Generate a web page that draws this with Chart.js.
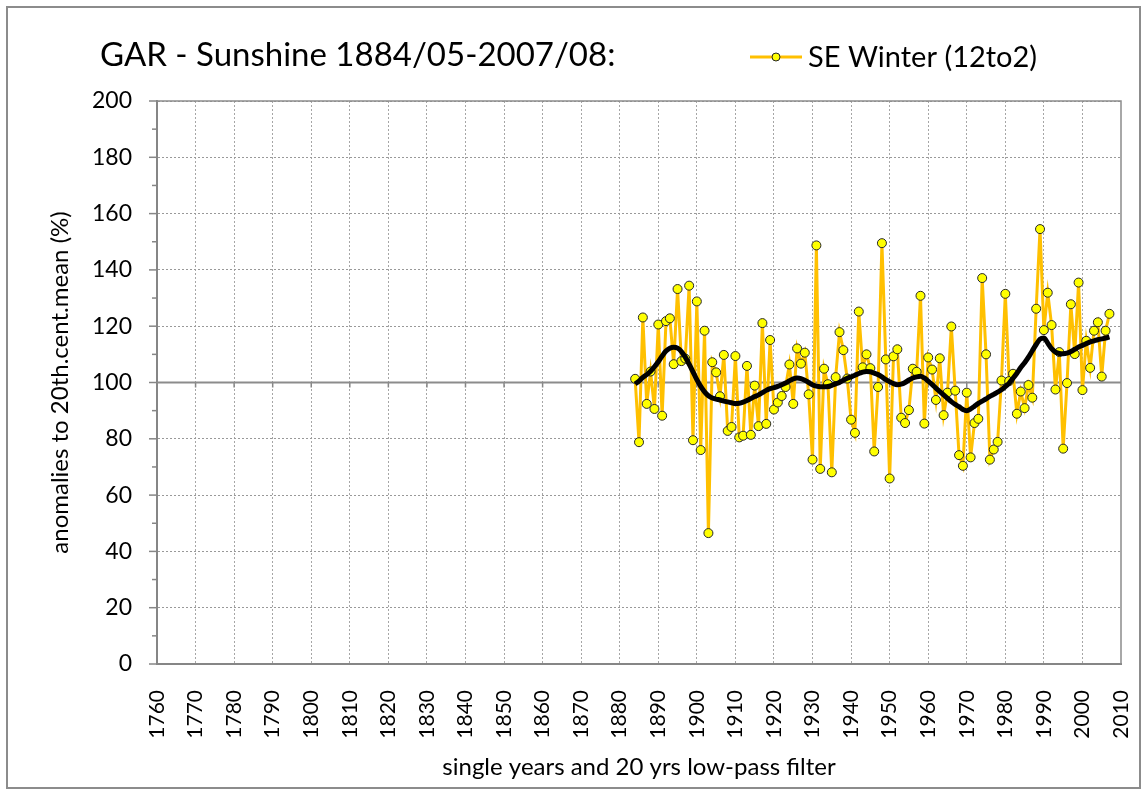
<!DOCTYPE html>
<html>
<head>
<meta charset="utf-8">
<title>GAR - Sunshine</title>
<script src="https://cdn.jsdelivr.net/npm/chart.js@4"></script>
<style>
  html, body { margin: 0; padding: 0; background: #fff; }
  #wrap { position: relative; width: 1148px; height: 793px; }
  #frame { position: absolute; left: 6px; top: 6px; width: 1131px; height: 779px; border: 2px solid #8c8c8c; pointer-events: none; }
</style>
</head>
<body>
<div id="wrap">
  <canvas id="sunChart" width="1148" height="793"></canvas>
  <div id="frame"></div>
</div>
<script>
const fontFamily = 'Lato, "Open Sans", sans-serif';
const chartTitle = 'GAR - Sunshine 1884/05-2007/08:';
const seriesLabel = 'SE Winter (12to2)';
const xTitle = 'single years and 20 yrs low-pass filter';
const yTitle = 'anomalies to 20th.cent.mean (%)';

const firstYear = 1884;
const xMin = 1760, xMax = 2010, xStep = 10;
const yMin = 0, yMax = 200, yStep = 20;
const refLevel = 100;

// winter sunshine anomalies, 1884 .. 2007
const sunshine = [
    101.3, 78.8, 123.1, 92.4, 103.9, 90.6, 120.6, 88.2, 121.8, 122.8,
    106.5, 133.2, 107.6, 108.5, 134.4, 79.5, 128.8, 76.0, 118.4, 46.5,
    107.2, 103.6, 95.1, 109.8, 82.8, 84.2, 109.4, 80.5, 81.1, 105.9,
    81.4, 98.9, 84.5, 121.1, 85.3, 115.1, 90.4, 92.9, 95.2, 98.4,
    106.4, 92.4, 112.1, 106.7, 110.6, 95.8, 72.6, 148.7, 69.3, 104.9,
    99.4, 68.1, 101.9, 117.9, 111.5, 101.4, 86.8, 82.1, 125.2, 105.4,
    110.0, 105.1, 75.5, 98.4, 149.5, 108.2, 65.9, 109.3, 111.8, 87.5,
    85.6, 90.2, 104.9, 103.8, 130.8, 85.4, 108.9, 104.6, 93.8, 108.6,
    88.4, 96.4, 119.9, 97.1, 74.2, 70.4, 96.4, 73.4, 85.6, 87.1,
    137.1, 110.0, 72.6, 76.2, 78.9, 100.7, 131.5, 100.5, 103.1, 88.9,
    96.8, 90.9, 99.1, 94.6, 126.2, 154.5, 118.6, 131.9, 120.4, 97.5,
    110.8, 76.5, 99.8, 127.8, 110.1, 135.5, 97.3, 114.8, 105.2, 118.4,
    121.4, 102.1, 118.4, 124.4
];

// 20 yrs low-pass filter
const lowPass = [
    99.5, 100.5, 101.8, 102.8, 104.0, 105.6, 107.4, 109.4, 111.2, 112.2,
    112.5, 112.2, 111.0, 109.0, 106.5, 103.8, 101.0, 98.6, 96.7, 95.3,
    94.5, 94.1, 93.8, 93.4, 93.1, 92.8, 92.5, 92.6, 93.0, 93.6,
    94.3, 95.0, 95.6, 96.4, 97.2, 97.8, 98.2, 98.6, 99.2, 99.8,
    100.6, 101.3, 101.6, 101.4, 100.8, 100.0, 99.2, 98.7, 98.5, 98.5,
    98.6, 99.0, 99.5, 100.0, 100.8, 101.5, 102.0, 102.6, 103.2, 103.7,
    103.9, 103.8, 103.3, 102.8, 102.0, 101.0, 100.3, 99.6, 99.2, 99.4,
    100.0, 100.9, 101.6, 102.0, 102.2, 101.6, 100.5, 99.3, 98.0, 96.8,
    95.6, 94.4, 93.2, 92.2, 91.4, 90.4, 90.0, 90.6, 91.6, 92.6,
    93.4, 94.2, 95.1, 95.8, 96.6, 97.4, 98.5, 99.8, 101.5, 103.3,
    105.3, 107.0, 109.0, 111.3, 113.5, 115.4, 115.8, 114.0, 112.0, 110.8,
    110.3, 110.2, 110.4, 111.0, 111.8, 112.6, 113.2, 113.8, 114.4, 114.8,
    115.2, 115.5, 115.8, 116.2
];

const years = sunshine.map((_, i) => firstYear + i);

function toPoints(values) {
    return values.map((v, i) => ({ x: years[i], y: v }));
}

// small picture used as legend marker: line with a point
function legendMarker() {
    const c = document.createElement('canvas');
    c.width = 52;
    c.height = 14;
    const g = c.getContext('2d');
    g.strokeStyle = '#FFC000';
    g.lineWidth = 3;
    g.beginPath();
    g.moveTo(0, 7);
    g.lineTo(52, 7);
    g.stroke();
    g.fillStyle = '#FFFF00';
    g.strokeStyle = '#262626';
    g.lineWidth = 1;
    g.beginPath();
    g.arc(26, 7, 4, 0, Math.PI * 2);
    g.fill();
    g.stroke();
    return c;
}

// title + legend on one row, axis tick marks, plot frame
const decorPlugin = {
    id: 'decor',
    beforeDatasetsDraw(chart) {
        const { ctx, chartArea, scales } = chart;
        const xs = scales.x, ys = scales.y;
        ctx.save();
        ctx.strokeStyle = '#8c8c8c';
        ctx.lineWidth = 1.5;
        ctx.beginPath();
        ctx.moveTo(chartArea.left, chartArea.top);
        ctx.lineTo(chartArea.right, chartArea.top);
        ctx.lineTo(chartArea.right, chartArea.bottom);
        ctx.stroke();

        // minor/major ticks on y axis
        ctx.strokeStyle = '#868686';
        for (let v = yMin; v <= yMax; v += yStep / 2) {
            const py = ys.getPixelForValue(v);
            const len = v % yStep === 0 ? 8 : 5;
            ctx.beginPath();
            ctx.moveTo(chartArea.left - len, py);
            ctx.lineTo(chartArea.left, py);
            ctx.stroke();
        }
        // ticks on the 100 % line
        const py100 = ys.getPixelForValue(refLevel);
        for (let yr = xMin + xStep; yr < xMax; yr += xStep) {
            const px = xs.getPixelForValue(yr);
            ctx.beginPath();
            ctx.moveTo(px, py100);
            ctx.lineTo(px, py100 + 5);
            ctx.stroke();
        }
        ctx.restore();
    },
    afterDraw(chart) {
        const ctx = chart.ctx;
        ctx.save();
        ctx.fillStyle = '#000';
        ctx.textBaseline = 'alphabetic';
        ctx.font = '33px ' + fontFamily;
        ctx.fillText(chartTitle, 100, 66);

        const marker = legendMarker();
        ctx.drawImage(marker, 750, 57 - marker.height / 2);
        ctx.font = '29px ' + fontFamily;
        ctx.fillText(chart.data.datasets[0].label, 808, 67);
        ctx.restore();
    }
};

const ctx = document.getElementById('sunChart').getContext('2d');

const chart = new Chart(ctx, {
    type: 'line',
    data: {
        datasets: [
            {
                label: seriesLabel,
                data: toPoints(sunshine),
                borderColor: '#FFC000',
                backgroundColor: '#FFFF00',
                borderWidth: 3,
                pointBackgroundColor: '#FFFF00',
                pointBorderColor: '#262626',
                pointBorderWidth: 1,
                pointRadius: 4.5,
                tension: 0,
                order: 2
            },
            {
                label: 'low-pass',
                data: toPoints(lowPass),
                borderColor: '#000000',
                borderWidth: 5,
                pointRadius: 0,
                tension: 0.4,
                cubicInterpolationMode: 'monotone',
                order: 1
            },
            {
                label: 'ref',
                data: [{ x: xMin, y: refLevel }, { x: xMax, y: refLevel }],
                borderColor: '#8c8c8c',
                borderWidth: 2,
                pointRadius: 0,
                order: 3
            }
        ]
    },
    options: {
        responsive: false,
        animation: false,
        layout: {
            padding: { top: 101, left: 0, right: 27, bottom: 10 }
        },
        plugins: {
            legend: { display: false },
            title: { display: false },
            tooltip: { enabled: false }
        },
        scales: {
            x: {
                type: 'linear',
                min: xMin,
                max: xMax,
                ticks: {
                    stepSize: xStep,
                    autoSkip: false,
                    minRotation: 90,
                    maxRotation: 90,
                    padding: 26,
                    color: '#000',
                    font: { family: fontFamily, size: 21 },
                    callback: v => String(v)
                },
                grid: {
                    color: c => (c.tick && (c.tick.value === xMin || c.tick.value === xMax)) ? 'rgba(0,0,0,0)' : '#a6a6a6',
                    lineWidth: 1,
                    drawTicks: false
                },
                border: { display: true, color: '#868686', width: 2, dash: [2, 2] },
                title: {
                    display: true,
                    text: xTitle,
                    color: '#000',
                    font: { family: fontFamily, size: 24 },
                    padding: { top: 0, bottom: 1 }
                },
                afterFit: s => {
                    s.height = 119;
                    s.paddingLeft = 0;
                    s.paddingRight = 0;
                }
            },
            y: {
                min: yMin,
                max: yMax,
                ticks: {
                    stepSize: yStep,
                    padding: 25,
                    color: '#000',
                    font: { family: fontFamily, size: 23 }
                },
                grid: {
                    color: c => (c.tick && (c.tick.value === refLevel || c.tick.value === yMin)) ? 'rgba(0,0,0,0)' : '#999999',
                    lineWidth: 1,
                    drawTicks: false
                },
                border: { display: true, color: '#868686', width: 2, dash: [2, 2] },
                title: {
                    display: true,
                    text: yTitle,
                    color: '#000',
                    font: { family: fontFamily, size: 24 },
                    padding: { top: 46, bottom: 0 }
                },
                afterFit: s => { s.width = 157; }
            }
        }
    },
    plugins: [decorPlugin]
});
</script>
</body>
</html>
